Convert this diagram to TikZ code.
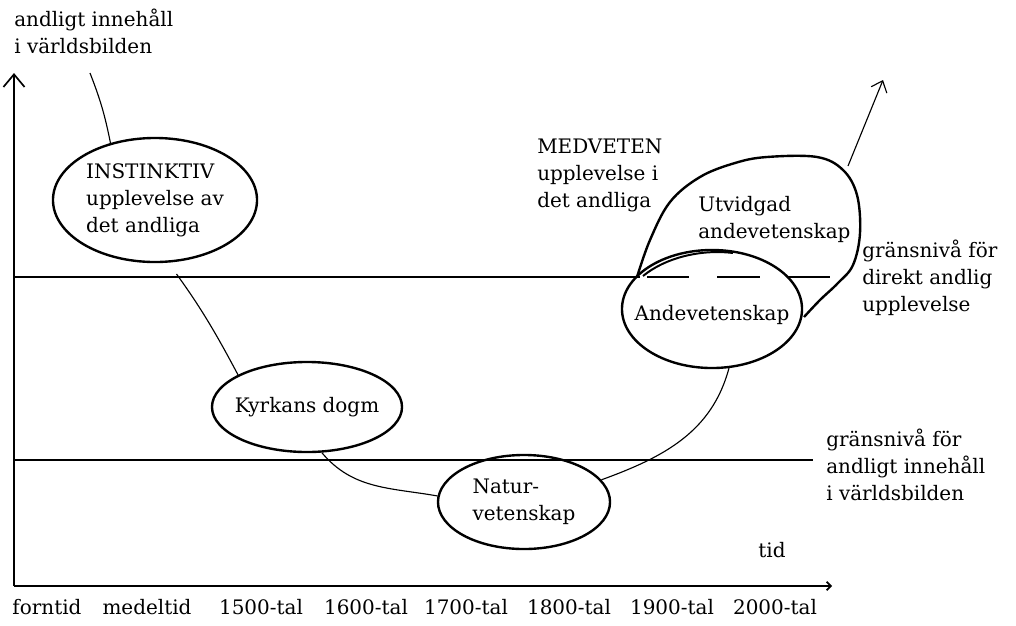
\documentclass[tikz,border=0pt]{standalone}
\usepackage{fontspec}
\setmainfont{DejaVu Serif}
\usepackage{tikz}
\usetikzlibrary{shapes.geometric, arrows.meta, positioning}

\begin{document}
\begin{tikzpicture}[x=0.025cm, y=-0.025cm,
	every node/.style={font=\fontsize{14.2}{19.2}\selectfont},
	blob/.style={draw, ellipse, line width=1.7pt, inner sep=0pt},
	lbl/.style={anchor=west, align=left, inner sep=0pt},
	link/.style={line width=0.8pt}]

	\useasboundingbox (0,0) rectangle (1016,625);

	% axes
	\coordinate (origin) at (14,586);
	\coordinate (ytop) at (14,73);
	\coordinate (xend) at (832,586);
	\draw[line width=1.2pt, -{Straight Barb[length=9pt, width=15pt]}] (origin) -- (ytop);
	\draw[line width=1.2pt, -{Straight Barb[length=3pt, width=6pt]}] (origin) -- (xend);

	% levels
	\draw[line width=1pt] (14,277) -- (640,277);
	\draw[line width=0.9pt, dash pattern=on 30pt off 20pt] (647,277) -- (843,277);
	\draw[line width=1pt] (14,460) -- (813,460);

	% stages
	\node[blob, minimum width=5.1cm, minimum height=3.1cm] (inst) at (155,200) {};
	\node[blob, minimum width=4.75cm, minimum height=2.25cm] (kyrka) at (307,407) {};
	\node[blob, minimum width=4.3cm, minimum height=2.35cm] (natur) at (524,502) {};
	\node[blob, minimum width=4.5cm, minimum height=2.95cm] (ande) at (712,309) {};

	\node[align=left] (insttxt) at (inst) {INSTINKTIV\\upplevelse av\\det andliga};
	\node (kyrkatxt) at (kyrka) {Kyrkans dogm};
	\node[align=left] (naturtxt) at (natur) {Natur-\\vetenskap};
	\node (andetxt) at (712,315) {Andevetenskap};

	% utvidgad
	\draw[line width=1.7pt] plot[smooth, tension=0.6] coordinates
		{(637,277) (650,240) (670,202) (700,177) (735,163) (767,157) (817,157)
		 (843,170) (857,195) (860,233) (853,265) (838,283) (820,300) (804,317)};
	\draw[line width=1.4pt] (643,276) .. controls (665,258) and (700,249) .. (733,253);
	\node[lbl] (utv) at (698,219) {Utvidgad\\andevetenskap};
	\coordinate (blobtop) at (848,166);
	\coordinate (up) at (883,80);
	\draw[link, -{Straight Barb[length=7pt, width=12pt]}] (blobtop) -- (up);

	% connectors
	\coordinate (start) at (90,73);
	\draw[link] (start) to[bend left=5] (inst.128);
	\draw[link, shorten <=0.35cm] (inst.-78) to[bend left=4] (kyrka.155);
	\draw[link] (kyrka.-72) to[out=-50, in=170] (natur.176);
	\draw[link] (natur.16) to[out=20, in=-105] (ande.-74);

	% labels
	\node[lbl] (yl) at (14,31) {andligt innehåll\\i världsbilden};
	\node[lbl] (medv) at (537,175) {MEDVETEN\\upplevelse i\\det andliga};
	\node[lbl] (grans1) at (862,278) {gränsnivå för\\direkt andlig\\upplevelse};
	\node[lbl] (grans2) at (826,465) {gränsnivå för\\andligt innehåll\\i världsbilden};
	\node (tid) at (772,550) {tid};

	\foreach \x/\lab in {47/forntid, 147/medeltid, 261/1500-tal, 366/1600-tal,
		466/1700-tal, 569/1800-tal, 672/1900-tal, 775/2000-tal}
	{
	\node at (\x,607) {\lab};
	}

\end{tikzpicture}
\end{document}
